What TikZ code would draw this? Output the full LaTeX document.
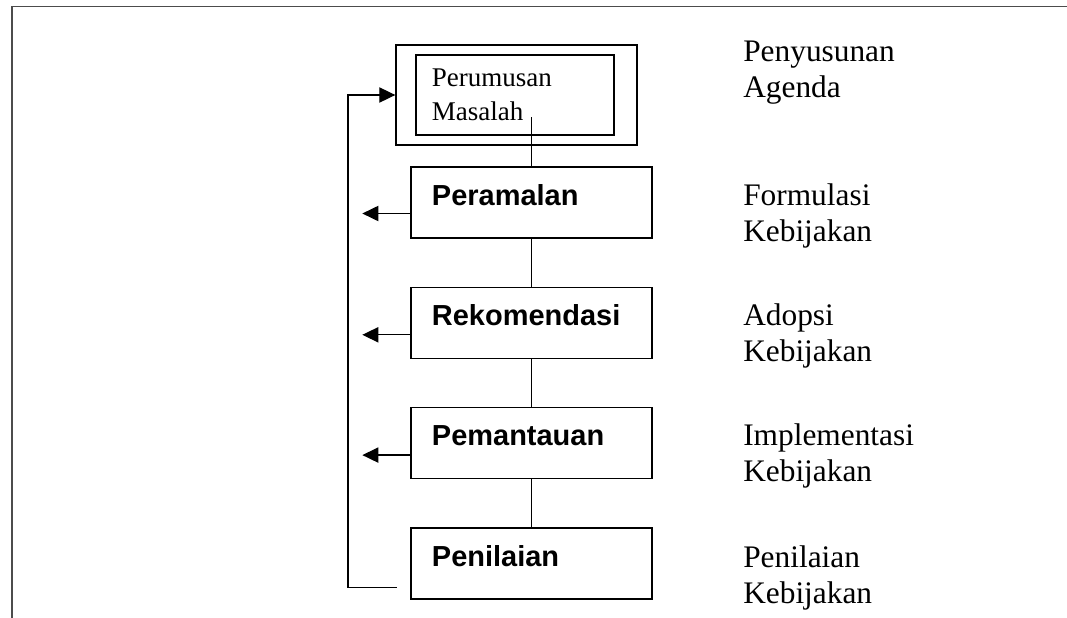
\documentclass[tikz,border=0pt]{standalone}
\usepackage{fontspec}
\setmainfont{Liberation Serif}
\newfontfamily\arialfont{Liberation Sans}
\usetikzlibrary{arrows.meta,positioning,calc}
\tikzset{
  stage/.style={draw, line width=0.9pt, minimum width=6.025cm, align=left, text width=4.975cm, inner xsep=0.525cm, inner ysep=0.1cm, text height=0.85cm, text depth=0.725cm, font=\arialfont\bfseries\fontsize{20.6}{24}\selectfont},
  phase/.style={anchor=base west, inner sep=0pt, align=left, text width=5cm, font=\fontsize{22.3}{26.3}\selectfont},
  line/.style={line width=0.9pt},
  feed/.style={-{Triangle[length=0.4cm,width=0.38cm]}, line width=0.9pt},
  frame/.style={line width=1.2pt, draw=black!70}
}

\begin{document}
\begin{tikzpicture}[x=0.025cm, y=-0.025cm, node distance=1.2cm]
  \useasboundingbox (0,0) rectangle (1067,618);
  \draw[frame] (1067,6.5) -- (12,6.5) -- (12,618);

  % agenda box
  \node[draw, line width=0.9pt, minimum width=6.025cm, minimum height=2.5cm] (agenda) at (516.5,95) {};
  \node[draw, line width=0.9pt, align=left, text width=4.15cm, inner xsep=0.4cm, inner ysep=0.075cm, text height=0.725cm, text depth=1.125cm, font=\fontsize{19.2}{23.5}\selectfont] (masalah) at (515,95) {Perumusan\\Masalah};

  % stages
  \node[stage] (ramal) at (531.5,202.5) {Peramalan};
  \node[stage, below=of ramal] (rekom) {Rekomendasi};
  \node[stage, below=of rekom] (pantau) {Pemantauan};
  \node[stage, below=of pantau, line width=1.4pt] (nilai) {Penilaian};

  % phases
  \node[phase] (susun) at (743,61) {Penyusunan\\Agenda};
  \node[phase] (formulasi) at (743,205) {Formulasi\\Kebijakan};
  \node[phase] (adopsi) at (743,325) {Adopsi\\Kebijakan};
  \node[phase] (implementasi) at (743,445) {Implementasi\\Kebijakan};
  \node[phase] (evaluasi) at (743,567) {Penilaian\\Kebijakan};

  % vertical links
  \coordinate (mstart) at (531.5,117);
  \draw[line] (mstart) -- (ramal.north);
  \draw[line] (ramal) -- (rekom);
  \draw[line] (rekom) -- (pantau);
  \draw[line] (pantau) -- (nilai);

  % side arrows
  \draw[feed] ($(ramal.west)+(0,11)$) -- ++(-48,0);
  \draw[feed] ($(rekom.west)+(0,12)$) -- ++(-48,0);
  \draw[feed] ($(pantau.west)+(0,12)$) -- ++(-48,0);

  % feedback loop
  \coordinate (loopstart) at ($(nilai.west)+(-13,24)$);
  \draw[feed] (loopstart) -- ++(-49,0) |- (agenda.west);
\end{tikzpicture}
\end{document}
